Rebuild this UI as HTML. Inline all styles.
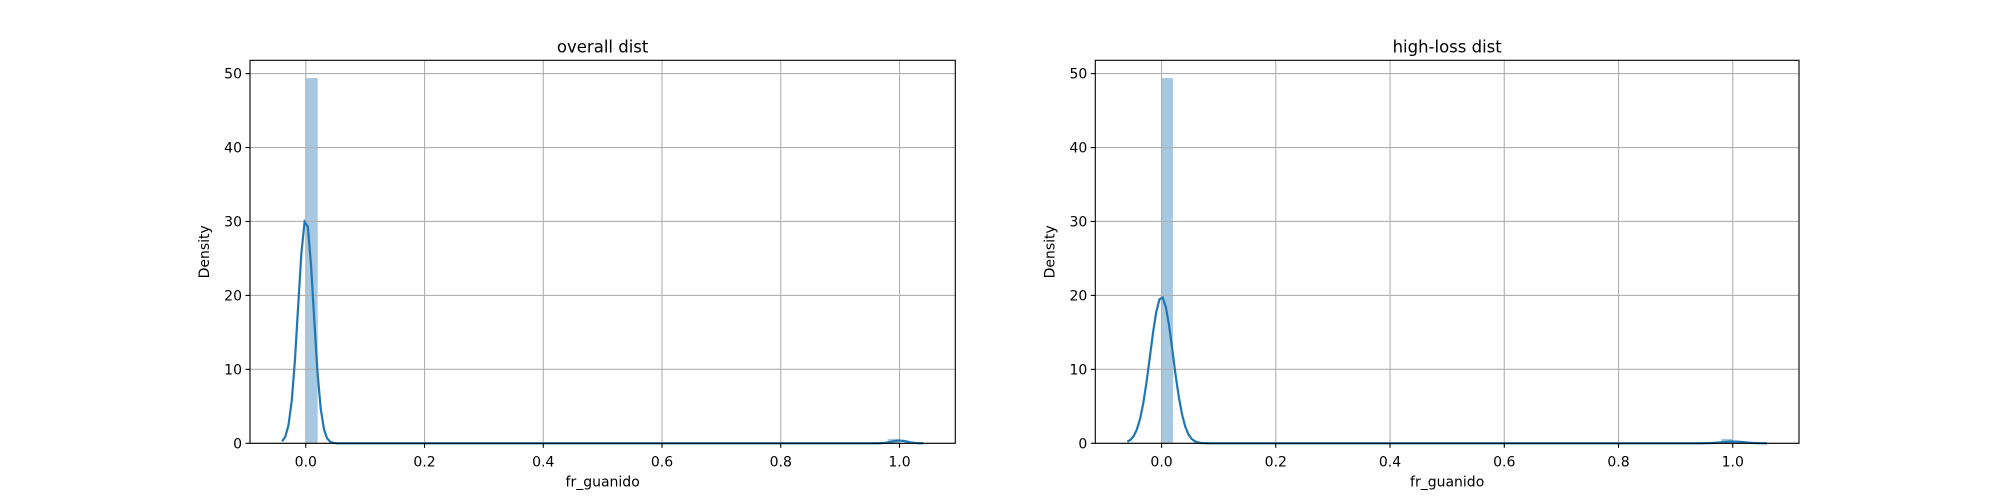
<!DOCTYPE html>
<html><head><meta charset="utf-8"><style>
html,body{margin:0;padding:0;background:#fff;}
svg{display:block;font-family:"DejaVu Sans","Liberation Sans",sans-serif;}
</style></head><body>
<svg id="fig" width="2000" height="500" viewBox="0 0 2000 500"></svg>
<script>
// data
const panelTitles = ["overall dist", "high-loss dist"];
const binEdgesStart = 0.0;
const binWidth = 0.02;
const barValues = [49.4, 0.6];      // densities of non-empty bins
const barBins = [0, 49];             // bin indices
const kdeCenters = [0, 1];
const kdeWeights = [0.988, 0.012];
const kdeBandwidths = [0.013, 0.0199];
const kdeRanges = [[-0.04, 1.04], [-0.06, 1.06]];
const xlims = [[-0.094, 1.094], [-0.116, 1.116]];
const yTicks = [0, 10, 20, 30, 40, 50];
const xTicks = [0.0, 0.2, 0.4, 0.6, 0.8, 1.0];
const ymax = 51.8;

const NS = "http://www.w3.org/2000/svg";
const svg = document.getElementById("fig");
function mk(tag, attrs, parent) {
  const e = document.createElementNS(NS, tag);
  for (const k in attrs) e.setAttribute(k, attrs[k]);
  (parent || svg).appendChild(e);
  return e;
}
const axesBoxes = [[250, 60.3, 955.3, 443.3], [1095.3, 60.3, 1799, 443.3]];

axesBoxes.forEach((box, p) => {
  const [L, T, R, B] = box;
  const g = mk("g", {});
  
  
  const [x0, x1] = xlims[p];
  const X = v => L + (v - x0) / (x1 - x0) * (R - L);
  const Y = v => B - v / ymax * (B - T);
  // bars
  barValues.forEach((v, i) => {
    const a = binEdgesStart + barBins[i] * binWidth;
    const r = mk("rect", {x: X(a), y: Y(v), width: X(a + binWidth) - X(a), height: B - Y(v), fill: "#a6c8e0"}, g);
    
    
  });
  // grid
  xTicks.forEach(t => {
    const l = mk("line", {x1: X(t), x2: X(t), y1: T, y2: B, stroke: "#b0b0b0", "stroke-width": 1.1}, g);
    
    
  });
  yTicks.forEach(t => {
    const l = mk("line", {x1: L, x2: R, y1: Y(t), y2: Y(t), stroke: "#b0b0b0", "stroke-width": 1.1}, g);
    
    
  });
  // kde
  const [k0, k1] = kdeRanges[p];
  const bw = kdeBandwidths[p];
  let d = "";
  for (let i = 0; i < 200; i++) {
    const x = k0 + (k1 - k0) * i / 199;
    let y = 0;
    kdeCenters.forEach((c, j) => {
      y += kdeWeights[j] * Math.exp(-0.5 * ((x - c) / bw) ** 2) / (bw * Math.sqrt(2 * Math.PI));
    });
    d += (i ? "L" : "M") + X(x).toFixed(2) + "," + Y(y).toFixed(2);
  }
  const path = mk("path", {d: d, fill: "none", stroke: "#1f77b4", "stroke-width": 2.2}, g);
  
  
  // frame
  const fr = mk("rect", {x: L, y: T, width: R - L, height: B - T, fill: "none", stroke: "#000", "stroke-width": 1.1}, g);
  
  
  // ticks
  xTicks.forEach(t => {
    mk("line", {x1: X(t), x2: X(t), y1: B, y2: B + 4.5, stroke: "#000", "stroke-width": 1.1}, g);
    const tx = mk("text", {x: X(t), y: B + 23, "text-anchor": "middle", "font-size": 14, fill: "#000"}, g);
    tx.textContent = t.toFixed(1);
    
    
  });
  yTicks.forEach(t => {
    mk("line", {x1: L - 4.5, x2: L, y1: Y(t), y2: Y(t), stroke: "#000", "stroke-width": 1.1}, g);
    const tx = mk("text", {x: L - 8, y: Y(t) + 5, "text-anchor": "end", "font-size": 14, fill: "#000"}, g);
    tx.textContent = t;
    
    
  });
  const title = mk("text", {x: (L + R) / 2, y: T - 8, "text-anchor": "middle", "font-size": 16.5, fill: "#000"}, g);
  title.textContent = panelTitles[p];
  
  
  const xl = mk("text", {x: (L + R) / 2, y: B + 43, "text-anchor": "middle", "font-size": 14, fill: "#000"}, g);
  xl.textContent = "fr_guanido";
  
  
  const yx = L - 41, yy = (T + B) / 2;
  const yl = mk("text", {x: yx, y: yy, "text-anchor": "middle", "font-size": 14, fill: "#000", transform: `rotate(-90 ${yx} ${yy})`}, g);
  yl.textContent = "Density";
  
  
});
</script>
</body></html>
